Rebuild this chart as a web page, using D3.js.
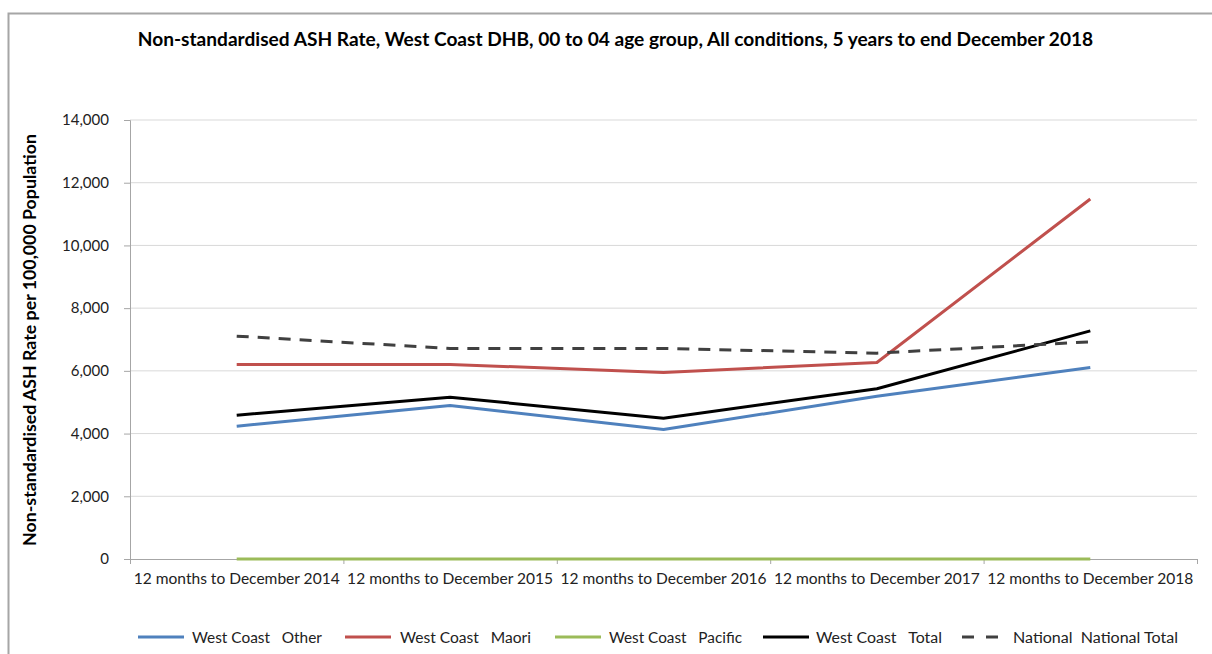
<!DOCTYPE html>
<html><head><meta charset="utf-8">
<script src="https://cdn.jsdelivr.net/npm/d3@7"></script>
<style>body{margin:0;background:#fff}svg{display:block}text{font-family:Lato,"Open Sans",sans-serif}</style>
</head><body><svg id="c" width="1212" height="654"></svg>
<script>
const categories = ["12 months to December 2014","12 months to December 2015","12 months to December 2016","12 months to December 2017","12 months to December 2018"];
const other    = [4235, 4895, 4130, 5190, 6110];
const maori    = [6204, 6204, 5950, 6268, 11479];
const pacific  = [0, 0, 0, 0, 0];
const total    = [4586, 5160, 4490, 5430, 7276];
const national = [7107, 6714, 6714, 6565, 6925];
const seriesNames = ["West Coast   Other","West Coast   Maori","West Coast   Pacific","West Coast   Total","National  National Total"];
const yTicks = [0,2000,4000,6000,8000,10000,12000,14000];
const title = "Non-standardised ASH Rate, West Coast DHB, 00 to 04 age group, All conditions,  5 years to end December 2018";
const yTitle = "Non-standardised ASH Rate per 100,000 Population";

const series = [
  {name: seriesNames[0], values: other,    color: "#4f81bd", dash: null},
  {name: seriesNames[1], values: maori,    color: "#c0504d", dash: null},
  {name: seriesNames[2], values: pacific,  color: "#9bbb59", dash: null},
  {name: seriesNames[3], values: total,    color: "#000000", dash: null},
  {name: seriesNames[4], values: national, color: "#404040", dash: "12,9"}
];

const svg = d3.select("#c");
const L = 130, R = 1197, T = 120, B = 559;

function fit(sel, w){
  const n = sel.node(); let fs = parseFloat(sel.attr("font-size"));
  for(let i=0;i<3;i++){ const cw = n.getComputedTextLength(); fs *= w/cw; sel.attr("font-size", fs); }
  return fs;
}

svg.append("rect").attr("x",8.5).attr("y",13.5).attr("width",1400).attr("height",800)
  .attr("fill","#fff").attr("stroke","#a6a6a6").attr("stroke-width",2);

const x = d3.scaleBand().domain(categories).range([L,R]).padding(0);
const y = d3.scaleLinear().domain([0,14000]).range([B,T]);

// gridlines
svg.append("g").selectAll("line").data(yTicks.filter(d=>d>0)).join("line")
  .attr("x1",L).attr("x2",R).attr("y1",d=>y(d)).attr("y2",d=>y(d))
  .attr("stroke","#d9d9d9").attr("stroke-width",1);

// y axis
const ya = svg.append("g").attr("transform",`translate(${L},0)`)
  .call(d3.axisLeft(y).tickValues(yTicks).tickFormat(d3.format(",")).tickSize(6).tickPadding(15));
ya.select(".domain").attr("stroke","#a6a6a6");
ya.selectAll(".tick line").attr("stroke","#a6a6a6");
const yl = ya.selectAll("text").attr("font-size",15).attr("fill","#222").attr("font-family","Lato");
const yfs = fit(ya.selectAll(".tick").filter(d=>d===14000).select("text"), 47);
yl.attr("font-size", yfs);

// x axis
const xa = svg.append("g").attr("transform",`translate(0,${B})`)
  .call(d3.axisBottom(x).tickSize(0).tickPadding(14));
xa.select(".domain").attr("stroke","#a6a6a6");
xa.selectAll(".tick line").remove();
xa.selectAll("text").attr("font-size",13.5).attr("fill","#222").attr("font-family","Lato")
  .each(function(){ fit(d3.select(this), 206); });
// boundary ticks
const bounds = categories.map(c=>x(c)).concat([R]);
svg.append("g").selectAll("line").data(bounds).join("line")
  .attr("x1",d=>d+0.5).attr("x2",d=>d+0.5).attr("y1",B).attr("y2",B+5)
  .attr("stroke","#a6a6a6");

// lines
const cx = i => x(categories[i]) + x.bandwidth()/2;
const line = d3.line().x((d,i)=>cx(i)).y(d=>y(d));
svg.append("g").selectAll("path").data(series).join("path")
  .attr("d",d=>line(d.values)).attr("fill","none")
  .attr("stroke",d=>d.color).attr("stroke-width",3)
  .attr("stroke-dasharray",d=>d.dash).attr("stroke-linejoin","round");

// title
const tt = svg.append("text").attr("x",615.5).attr("y",46).attr("text-anchor","middle")
  .attr("font-weight","bold").attr("font-size",16).attr("fill","#000").text(title);
fit(tt, 955);

// y title
const yt = svg.append("text").attr("transform","translate(36,340) rotate(-90)")
  .attr("text-anchor","middle").attr("font-weight","bold").attr("font-size",15).attr("fill","#000").text(yTitle);
fit(yt, 412);

// legend
const legX = [138, 345, 555, 763, 962];
const legTextX = [192, 400, 609, 816, 1013];
const legW = [130, 131, 133, 126, 165];
const lg = svg.append("g").selectAll("g").data(series).join("g")
  .attr("transform",(d,i)=>`translate(${legX[i]},637)`);
lg.append("line").attr("x1",0).attr("x2",d=>d.dash?38:46).attr("y1",0).attr("y2",0)
  .attr("stroke",d=>d.color).attr("stroke-width",3).attr("stroke-dasharray",d=>d.dash?"12,12":null);
lg.append("text").attr("x",(d,i)=>legTextX[i]-legX[i]).attr("y",5.5).attr("font-size",15).attr("fill","#222")
  .attr("xml:space","preserve").style("white-space","pre").text(d=>d.name)
  .each(function(d,i){ fit(d3.select(this), legW[i]); });
</script></body></html>
